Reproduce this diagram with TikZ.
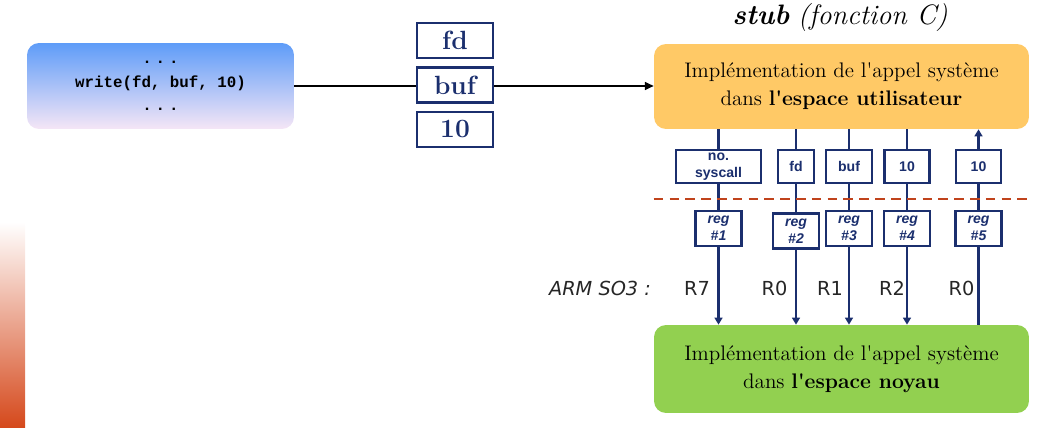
\documentclass[tikz,border=0pt]{standalone}
\usepackage{fontspec}
\usepackage{tikz}
\usetikzlibrary{positioning,arrows.meta,backgrounds}
\newfontfamily\verdana{DejaVu Sans}
\newfontfamily\arial{Liberation Sans}
\newfontfamily\courier{Liberation Mono}
\definecolor{bleunuit}{HTML}{1B2F6E}
\definecolor{bleuhaut}{HTML}{5E9CF8}
\definecolor{bleumilieu}{HTML}{9DC3F2}
\definecolor{rosebas}{HTML}{F5E6F6}
\definecolor{jaune}{HTML}{FFC966}
\definecolor{vert}{HTML}{92D050}
\definecolor{barre}{HTML}{D5481B}
\definecolor{sep}{HTML}{C0431C}
\tikzset{
  espace/.style={rounded corners=0.24cm, minimum width=7.5cm, align=center, font=\fontsize{12}{16}\selectfont},
  argbox/.style={draw=bleunuit, line width=1.4pt, fill=white, text=bleunuit, minimum width=1.52cm, minimum height=0.7cm, font=\fontsize{15}{18}\selectfont\bfseries},
  valbox/.style={draw=bleunuit, line width=1.2pt, fill=white, text=bleunuit, minimum height=0.66cm, inner sep=0pt, align=center, font=\arial\bfseries\fontsize{8}{9.5}\selectfont},
  regbox/.style={valbox, minimum width=0.92cm, minimum height=0.7cm, font=\arial\bfseries\itshape\fontsize{8}{9.5}\selectfont},
  fil/.style={bleunuit, line width=1.2pt},
  reglab/.style={font=\verdana\fontsize{11}{13}\selectfont, text=black!85}
}
\newcommand{\points}{.\kern2.2pt.\kern2.2pt.}
\newcommand{\apos}{\textquotesingle}
\begin{document}
\begin{tikzpicture}[x=0.02cm,y=-0.02cm]
    \useasboundingbox (0,0) rectangle (1062,428);
    \shade[top color=white, bottom color=barre] (0,222) rectangle (25,428); %barre
    % programme utilisateur
    \node[rounded corners=0.24cm, minimum width=5.34cm, minimum height=1.72cm, top color=bleuhaut, middle color=bleumilieu, bottom color=rosebas, font=\courier\bfseries\fontsize{9}{13.3}\selectfont, align=center] (prog) at (160.5,86) {\points\\write(fd, buf, 10)\\\points};
    % arguments
    \node[argbox] (afd) at (455,40.5) {fd};
    \node[argbox, below=0.14cm of afd] (abuf) {buf};
    \node[argbox, below=0.14cm of abuf] (aten) {10};
    % stub
    \node[font=\fontsize{16}{19}\selectfont] (titre) at (840,17) {\textbf{\textit{stub}} \textit{(fonction C)}};
    \node[espace, fill=jaune, minimum height=1.7cm] (ub) at (841.5,86.5) {Implémentation de l\apos appel système\\dans \textbf{l\apos espace utilisateur}};
    \node[espace, fill=vert, minimum height=1.76cm] (kb) at (841.5,369) {Implémentation de l\apos appel système\\dans \textbf{l\apos espace noyau}};
    % valeurs
    \node[valbox, minimum width=1.7cm] (vsys) at (718.5,166.5) {no.\\syscall};
    \node[valbox, minimum width=0.72cm] (vfd) at (796,166.5) {fd};
    \node[valbox, minimum width=0.92cm] (vbuf) at (849,166.5) {buf};
    \node[valbox, minimum width=0.9cm] (vten) at (907,166.5) {10};
    \node[valbox, minimum width=0.9cm] (vret) at (978.5,166.5) {10};
    \draw[sep, line width=1.1pt, dash pattern=on 5.5pt off 3.5pt] (ub.west |- 0,199) -- (ub.east |- 0,199); %separation
    % registres
    \node[regbox] (r1) at (718.5,228.5) {reg\\\#1};
    \node[regbox] (r2) at (796,231) {reg\\\#2};
    \node[regbox] (r3) at (849,228.5) {reg\\\#3};
    \node[regbox] (r4) at (907,228.5) {reg\\\#4};
    \node[regbox] (r5) at (978.5,228.5) {reg\\\#5};
    % ARM
    \node[reglab, font=\verdana\itshape\fontsize{11}{13}\selectfont] (arm) at (600,288) {ARM SO3 :};
    \node[reglab] (lr7) at (697,288) {R7};
    \node[reglab] (lr0) at (774.5,288) {R0};
    \node[reglab] (lr1) at (830,288) {R1};
    \node[reglab] (lr2) at (892,288) {R2};
    \node[reglab] (lr0b) at (961.5,288) {R0};
    \begin{scope}[on background layer]
        \foreach \v in {vsys,vfd,vbuf,vten}
            \draw[fil, -{Triangle[length=4pt,width=4.5pt]}] (ub.south -| \v) -- (kb.north -| \v);
        \draw[fil, {Triangle[length=4pt,width=4.5pt]}-] (ub.south -| vret) -- (kb.north -| vret);
        \draw[line width=0.9pt, -{Triangle[length=5pt,width=4.5pt]}] (prog.east) -- (prog.east -| ub.west);
    \end{scope}
\end{tikzpicture}
\end{document}
